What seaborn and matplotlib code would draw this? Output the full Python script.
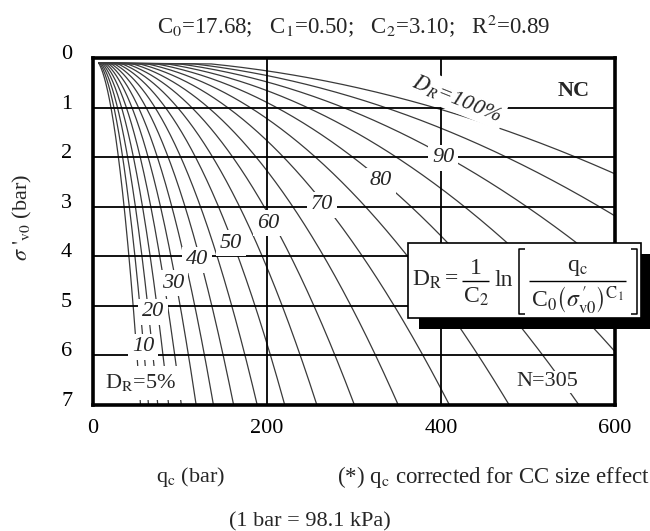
import numpy as np
import pandas as pd
import matplotlib
matplotlib.use("Agg")
import matplotlib.pyplot as plt
import seaborn as sns
from matplotlib.patches import Rectangle
from matplotlib.lines import Line2D
from matplotlib.transforms import ScaledTranslation

# ---------------- data ----------------
DR_LEVELS = [5, 10, 15, 20, 25, 30, 35, 40, 45, 50,
             55, 60, 65, 70, 75, 80, 85, 90, 95, 100]      # D_R (%)
C0 = 17.68
C1 = 0.50
C2 = 3.10
R2 = 0.89
N_TESTS = 305
SIGMA_START = 0.10          # common start point of all curves (bar)
QC_START = 6.5              # (bar)
SIGMA_GRID = np.linspace(0.12, 7.0, 400)   # sigma'_v0 (bar)
X_TICKS = [0, 200, 400, 600]
Y_TICKS = [0, 1, 2, 3, 4, 5, 6, 7]
CURVE_LABELS = ["10", "20", "30", "40", "50", "60", "70", "80", "90"]

# ---------------- build long-form table ----------------
rows = []
for dr in DR_LEVELS:
    rows.append((dr, QC_START, SIGMA_START, 0))
    qc = C0 * SIGMA_GRID ** C1 * np.exp(C2 * dr / 100.0)
    for i, (q, s) in enumerate(zip(qc, SIGMA_GRID)):
        rows.append((dr, q, s, i + 1))
df = pd.DataFrame(rows, columns=["DR", "qc", "sigma", "order"])

# ---------------- style ----------------
sns.set_theme(style="white")
plt.rcParams["font.family"] = ["Liberation Serif", "DejaVu Serif"]
plt.rcParams["mathtext.fontset"] = "stix"

W, H = 650, 531
fig = plt.figure(figsize=(W / 100, H / 100), dpi=100)
fig.patch.set_facecolor("white")

L, R, T, B = 93, 615, 58, 405
ax = fig.add_axes([L / W, 1 - B / H, (R - L) / W, (B - T) / H])
ax.set_facecolor("white")

sns.lineplot(data=df, x="qc", y="sigma", hue="DR", units="DR",
             estimator=None, sort=False, legend=False,
             palette=["#3a3a3a"] * len(DR_LEVELS), linewidth=0.9,
             ax=ax, zorder=2)

ax.set_xlim(X_TICKS[0], X_TICKS[-1])
ax.set_ylim(Y_TICKS[-1], Y_TICKS[0])
ax.set_xticks(X_TICKS)
ax.set_yticks(Y_TICKS)
ax.set_xticklabels([str(v) for v in X_TICKS])
ax.set_yticklabels([str(v) for v in Y_TICKS])
ax.tick_params(axis="both", length=0, labelsize=16, colors="black")
ax.tick_params(axis="x", pad=10)
ax.tick_params(axis="y", pad=15)
ax.set_xlabel("")
ax.set_ylabel("")
for lab in ax.get_yticklabels():
    lab.set_transform(lab.get_transform() +
                      ScaledTranslation(0, 6 / 100, fig.dpi_scale_trans))

for v in X_TICKS[1:-1]:
    ax.axvline(v, color="black", lw=1.3, zorder=3)
for v in Y_TICKS[1:-1]:
    ax.axhline(v, color="black", lw=1.3, zorder=3)

for sp in ax.spines.values():
    sp.set_visible(True)
    sp.set_color("black")
    sp.set_linewidth(2.6)
    sp.set_zorder(10)

# ---------------- inline curve labels ----------------
def px2data(px, py):
    return ((px - L) / (R - L) * (X_TICKS[-1] - X_TICKS[0]),
            (py - T) / (B - T) * (Y_TICKS[-1] - Y_TICKS[0]))

label_px = {"10": (143, 347), "20": (153, 312), "30": (173, 283),
            "40": (197, 260), "50": (231, 243), "60": (268, 223),
            "70": (322, 205), "80": (381, 181), "90": (443, 158)}
box = dict(facecolor="white", edgecolor="none", pad=2.5)
for t in CURVE_LABELS:
    x, y = px2data(*label_px[t])
    ax.text(x, y, t, fontsize=16, style="italic", ha="center", va="center",
            bbox=box, zorder=5)

x, y = px2data(457, 98)
ax.text(x, y, r"$\mathit{D}_{\mathit{R}}$=100%", fontsize=16, style="italic",
        rotation=-22, ha="center", va="center", bbox=box, zorder=5,
        rotation_mode="anchor")
x, y = px2data(141, 383)
ax.text(x, y, r"D$_{\mathrm{R}}$=5%", fontsize=16, ha="center", va="center",
        bbox=dict(facecolor="white", edgecolor="none", pad=5), zorder=5)
x, y = px2data(574, 91)
ax.text(x, y, "NC", fontsize=16, weight="bold", ha="center", va="center",
        zorder=5)
x, y = px2data(547, 382)
ax.text(x, y, f"N={N_TESTS}", fontsize=16, ha="center", va="center",
        bbox=dict(facecolor="white", edgecolor="none", pad=1), zorder=5)

# ---------------- formula box with shadow ----------------
def fx(px):
    return px / W


def fy(py):
    return 1 - py / H


bx0, by0, bx1, by1 = 408, 243, 641, 318
off = 11
fig.patches.append(Rectangle((fx(bx0 + off), fy(by1 + off)),
                             (bx1 - bx0) / W, (by1 - by0) / H,
                             transform=fig.transFigure, facecolor="black",
                             edgecolor="none", zorder=20))
fig.patches.append(Rectangle((fx(bx0), fy(by1)),
                             (bx1 - bx0) / W, (by1 - by0) / H,
                             transform=fig.transFigure, facecolor="white",
                             edgecolor="black", lw=1.2, zorder=21))

FS = 17
ymid = 281


def ftxt(px, py, s, ha="center", va="center", size=FS):
    fig.text(fx(px), fy(py), s, fontsize=size, ha=ha, va=va, zorder=22)


def fline(xs, ys, lw=1.0):
    fig.add_artist(Line2D([fx(v) for v in xs], [fy(v) for v in ys],
                          transform=fig.transFigure, color="black", lw=lw,
                          zorder=22, solid_capstyle="butt"))


ftxt(412, 280, r"D$_\mathrm{R}$", ha="left")
ftxt(451, 279, "=")
fline([462, 489], [ymid, ymid])
ftxt(475.5, 269, "1")
ftxt(476, 297, r"C$_2$")
ftxt(494, 280, "ln", ha="left")
# left bracket
fline([525, 519, 519, 525], [249, 249, 314, 314], lw=1.1)
ftxt(577, 268, r"q$_\mathrm{c}$")
fline([529, 626], [ymid, ymid])
ftxt(577, 300, r"C$_0\left(\sigma^{\,\prime}_{\mathrm{v0}}\right)^{\mathrm{C}_1}$")
# right bracket
fline([631, 637, 637, 631], [249, 249, 314, 314], lw=1.1)

# ---------------- titles / axis texts ----------------
fig.text(354 / W, 1 - 26 / H,
         rf"C$_0$={C0:.2f};   C$_1$={C1:.2f};   C$_2$={C2:.2f};   R$^2$={R2:.2f}",
         fontsize=16.5, ha="center", va="center")
fig.text(191 / W, 1 - 477 / H, r"q$_\mathrm{c}$ (bar)", fontsize=16,
         ha="center", va="center")
fig.text(493 / W, 1 - 477 / H, r"(*) q$_\mathrm{c}$ corrected for CC size effect",
         fontsize=16.5, ha="center", va="center")
fig.text(310 / W, 1 - 522 / H, "(1 bar = 98.1 kPa)", fontsize=16,
         ha="center", va="center")
fig.text(22 / W, 1 - 217 / H, r"$\sigma\ '_{\mathrm{v0}}$ (bar)", fontsize=16,
         ha="center", va="center", rotation=90)

fig.savefig("out.png", dpi=100, facecolor="white")
